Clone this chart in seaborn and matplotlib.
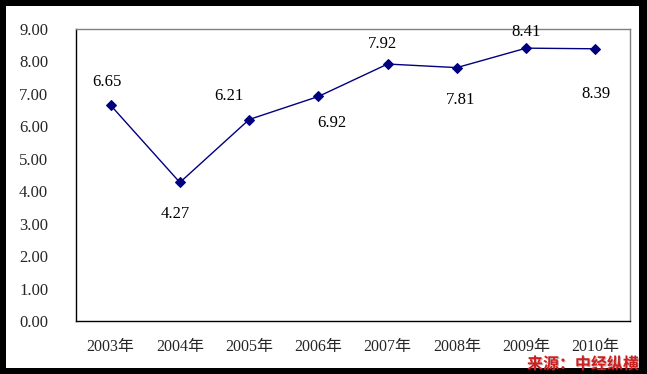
import pandas as pd
import seaborn as sns
import matplotlib.pyplot as plt
import matplotlib.patheffects as pe
from matplotlib.patches import Rectangle

years = ['2003年', '2004年', '2005年', '2006年', '2007年', '2008年', '2009年', '2010年']
values = [6.65, 4.27, 6.21, 6.92, 7.92, 7.81, 8.41, 8.39]
yticks = [0, 1, 2, 3, 4, 5, 6, 7, 8, 9]

# label offsets from each point, in pixels (labels were placed by hand)
label_dx = [-4, -5, -20, 13, -5, 4, 0, 1]
label_dy = [23, -32, 24, -27, 20, -32, 16, -45]

df = pd.DataFrame({'year': years, 'value': values})

sns.set_style('white')
plt.rcParams['font.family'] = ['Liberation Serif', 'Noto Sans CJK SC']

W, H = 647, 374
fig = plt.figure(figsize=(W / 100, H / 100), dpi=100)
fig.patch.set_facecolor('black')
# white inner card
fig.add_artist(Rectangle((6 / W, 1 - 368 / H), (639 - 6) / W, (368 - 6) / H,
                         transform=fig.transFigure, facecolor='white',
                         edgecolor='none', zorder=0))

ax = fig.add_axes([76 / W, 1 - 321 / H, (630 - 76) / W, (321 - 29) / H])
ax.set_facecolor('white')

x = list(range(len(years)))
sns.lineplot(x=x, y=df['value'], ax=ax, color='#000080', linewidth=1,
             marker='D', markersize=5, markeredgecolor='#000080')

for xi, v, dx, dy in zip(x, values, label_dx, label_dy):
    ax.annotate(f'{v:.2f}', (xi, v), xytext=(dx * 0.72, dy * 0.72),
                textcoords='offset points', ha='center', va='center',
                fontsize=12, color='black')

ax.set_xlim(-0.5, len(years) - 0.5)
ax.set_ylim(0, 9)
ax.set_yticks(yticks)
ax.set_yticklabels([f'{t:.2f}' for t in yticks], fontsize=12)
ax.set_xticks(x)
ax.set_xticklabels(years, fontsize=11.5)
ax.set_xticks([i - 0.5 for i in range(len(years) + 1)], minor=True)
ax.tick_params(axis='x', which='major', length=0, pad=13)
ax.tick_params(axis='x', which='minor', direction='in', length=5, width=1, color='black')
ax.tick_params(axis='y', which='major', direction='out', length=4, width=1, color='black', pad=16)
ax.set_xlabel('')
ax.set_ylabel('')

for side in ['left', 'bottom']:
    ax.spines[side].set_color('black')
    ax.spines[side].set_linewidth(1)
for side in ['top', 'right']:
    ax.spines[side].set_visible(True)
    ax.spines[side].set_color('#808080')
    ax.spines[side].set_linewidth(1)

fig.text(639 / W, 1 - 364 / H, '来源：中经纵横', ha='right', va='center',
         fontsize=11.5, fontweight='bold', color='#cc1f1f',
         family=['Noto Sans CJK SC', 'DejaVu Sans'], style='italic',
         path_effects=[pe.withSimplePatchShadow(offset=(0.8, -0.8), shadow_rgbFace='#500000', alpha=0.3)])

fig.savefig('out.png', dpi=100, facecolor=fig.get_facecolor())
